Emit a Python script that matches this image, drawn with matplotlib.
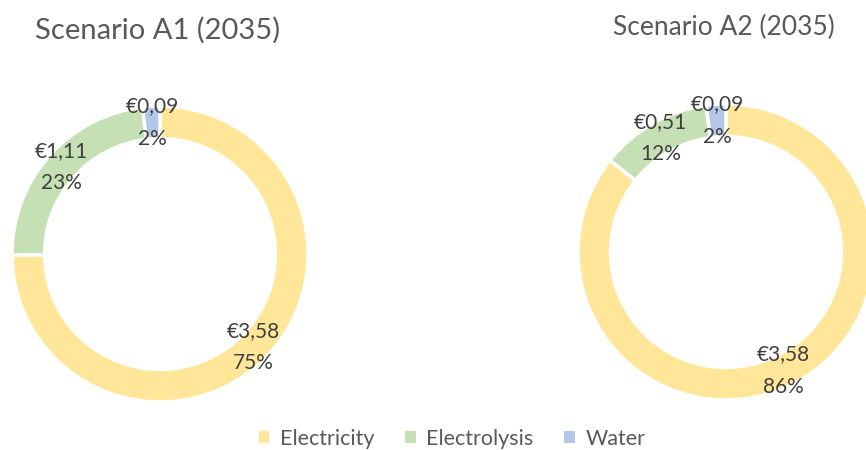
import numpy as np
import matplotlib.pyplot as plt
from matplotlib.patches import Patch

plt.rcParams['font.family'] = ['Lato', 'DejaVu Sans']

categories = ['Electricity', 'Electrolysis', 'Water']
colors = ['#FFE699', '#C5E0B4', '#B4C7E7']
a1_values = [3.58, 1.11, 0.09]
a2_values = [3.58, 0.51, 0.09]
titles = ['Scenario A1 (2035)', 'Scenario A2 (2035)']

W, H = 866, 450
fig = plt.figure(figsize=(W / 100, H / 100), dpi=100)


def donut(box, values):
    x0, y0, x1, y1 = box
    ax = fig.add_axes([x0 / W, 1 - y1 / H, (x1 - x0) / W, (y1 - y0) / H])
    total = sum(values)
    labels = ['€' + f'{v:.2f}'.replace('.', ',') + '\n' + f'{round(100 * v / total):.0f}%'
              for v in values]
    wedges, texts = ax.pie(values, colors=colors, startangle=90, counterclock=False,
                           radius=1, labels=labels, labeldistance=0.89,
                           wedgeprops=dict(width=0.22, edgecolor='white', linewidth=2.5),
                           textprops=dict(fontsize=15, color='#404040',
                                          ha='center', va='center', linespacing=1.75))
    ax.set_xlim(-1, 1)
    ax.set_ylim(-1, 1)
    ax.set_aspect('equal')
    ax.axis('off')
    return ax


donut((12, 106, 308, 402), a1_values)
donut((578, 104, 874, 400), a2_values)

fig.text(158 / W, 1 - 30 / H, titles[0], fontsize=21, color='#595959', ha='center', va='center')
fig.text(724 / W, 1 - 27 / H, titles[1], fontsize=19, color='#595959', ha='center', va='center')

handles = [Patch(facecolor=c, edgecolor='none') for c in colors]
fig.legend(handles, categories, loc='center', bbox_to_anchor=(452 / W, 1 - 439 / H),
           ncol=3, frameon=False, fontsize=15.5, labelcolor='#595959',
           handlelength=0.5, handleheight=0.5, handletextpad=0.5, columnspacing=1.4)

fig.savefig('out.png', dpi=100)
